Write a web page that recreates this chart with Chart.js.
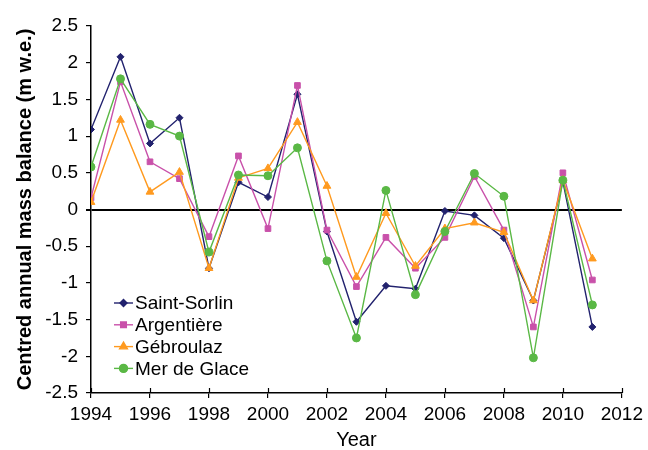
<!DOCTYPE html>
<html>
<head>
<meta charset="utf-8">
<script src="https://cdn.jsdelivr.net/npm/chart.js@4/dist/chart.umd.min.js"></script>
<style>
  html, body { margin: 0; padding: 0; background: #fff; }
  #wrap { width: 648px; height: 450px; position: relative; }
</style>
</head>
<body>
<div id="wrap"><canvas id="massChart" width="648" height="450"></canvas></div>
<script>
const years = [1994, 1995, 1996, 1997, 1998, 1999, 2000, 2001, 2002, 2003, 2004, 2005, 2006, 2007, 2008, 2009, 2010, 2011];
const saintSorlin = [1.09, 2.08, 0.90, 1.25, -0.80, 0.37, 0.17, 1.57, -0.30, -1.53, -1.04, -1.08, -0.02, -0.08, -0.39, -1.24, 0.38, -1.60];
const argentiere = [0.16, 1.74, 0.65, 0.42, -0.37, 0.73, -0.26, 1.69, -0.28, -1.05, -0.38, -0.80, -0.38, 0.45, -0.28, -1.60, 0.50, -0.96];
const gebroulaz = [0.10, 1.22, 0.24, 0.51, -0.80, 0.43, 0.56, 1.19, 0.32, -0.92, -0.05, -0.77, -0.26, -0.18, -0.31, -1.24, 0.40, -0.67];
const merDeGlace = [0.58, 1.78, 1.16, 1.00, -0.58, 0.47, 0.46, 0.84, -0.70, -1.75, 0.26, -1.16, -0.30, 0.49, 0.18, -2.02, 0.40, -1.30];

const seriesNames = ["Saint-Sorlin", "Argentière", "Gébroulaz", "Mer de Glace"];
const xLabel = "Year";
const yLabel = "Centred annual mass balance (m w.e.)";

const FONT = "'Liberation Sans', Arial, sans-serif";

function toPoints(values) {
  return values.map((v, i) => ({ x: years[i], y: v }));
}

function makeDataset(label, values, color, style, radius, order) {
  return {
    label,
    data: toPoints(values),
    borderColor: color,
    backgroundColor: color,
    pointBackgroundColor: color,
    pointBorderColor: color,
    pointStyle: style,
    pointRadius: radius,
    pointBorderWidth: 1,
    borderWidth: 1.4,
    tension: 0,
    order,
  };
}

// legend drawn inside the plot, lower left
const insideLegend = {
  id: "insideLegend",
  afterDraw(chart) {
    const ctx = chart.ctx;
    const x0 = 114;
    const y0 = 303;
    const gap = 21.8;
    ctx.save();
    ctx.font = "19px " + FONT;
    ctx.textBaseline = "middle";
    chart.data.datasets.forEach((ds, i) => {
      const y = y0 + i * gap;
      ctx.strokeStyle = ds.borderColor;
      ctx.lineWidth = 1.4;
      ctx.beginPath();
      ctx.moveTo(x0, y);
      ctx.lineTo(x0 + 19, y);
      ctx.stroke();
      ctx.fillStyle = ds.borderColor;
      Chart.helpers.drawPoint(ctx, { pointStyle: ds.pointStyle, radius: ds.pointRadius, rotation: 0, borderWidth: 1 }, x0 + 9.5, y);
      ctx.fillStyle = "#000";
      ctx.fillText(ds.label, x0 + 21, y + 1);
    });
    ctx.restore();
  },
};

// x-axis ticks cross the axis line, so add the part inside the plot
const innerTicks = {
  id: "innerTicks",
  afterDraw(chart) {
    const ctx = chart.ctx;
    const xs = chart.scales.x;
    const y = chart.chartArea.bottom;
    ctx.save();
    ctx.strokeStyle = "#000";
    ctx.lineWidth = 1.2;
    xs.ticks.forEach((t) => {
      const px = Math.round(xs.getPixelForValue(t.value)) + 0.5;
      ctx.beginPath();
      ctx.moveTo(px, y);
      ctx.lineTo(px, y - 5);
      ctx.stroke();
    });
    ctx.restore();
  },
};

const ctx = document.getElementById("massChart").getContext("2d");
new Chart(ctx, {
  type: "line",
  data: {
    datasets: [
      makeDataset(seriesNames[0], saintSorlin, "#22226e", "rectRot", 3.5, 4),
      makeDataset(seriesNames[1], argentiere, "#c951aa", "rect", 4, 3),
      makeDataset(seriesNames[2], gebroulaz, "#ff9a1f", "triangle", 4.5, 2),
      makeDataset(seriesNames[3], merDeGlace, "#5ab845", "circle", 4, 1),
    ],
  },
  options: {
    responsive: false,
    animation: false,
    layout: { padding: { top: 26, right: 26, left: 0, bottom: 0 } },
    plugins: {
      legend: { display: false },
      tooltip: { enabled: false },
    },
    scales: {
      x: {
        type: "linear",
        min: 1994,
        max: 2012,
        ticks: {
          stepSize: 2,
          color: "#000",
          font: { family: FONT, size: 19 },
          padding: 5,
          maxRotation: 0,
          callback: (v) => String(v),
        },
        grid: { display: true, drawOnChartArea: false, drawTicks: true, tickLength: 5, color: "#000", lineWidth: 1.2 },
        border: { display: true, color: "#000", width: 1.5 },
        title: { display: true, text: xLabel, color: "#000", font: { family: FONT, size: 20, lineHeight: 1 }, padding: { top: 2, bottom: 0 } },
        afterFit(scale) { scale.height = 57; },
      },
      y: {
        min: -2.5,
        max: 2.5,
        ticks: {
          stepSize: 0.5,
          color: "#000",
          font: { family: FONT, size: 19 },
          padding: 8,
          callback: (v) => String(v),
        },
        grid: {
          display: true,
          drawOnChartArea: true,
          drawTicks: true,
          tickLength: 5,
          tickColor: "#000",
          color: (c) => (c.tick && c.tick.value === 0 ? "#000" : "rgba(0,0,0,0)"),
          lineWidth: (c) => (c.tick && c.tick.value === 0 ? 2 : 1.2),
        },
        border: { display: true, color: "#000", width: 1.5 },
        title: { display: true, text: yLabel, color: "#000", font: { family: FONT, size: 20, weight: "bold" }, padding: { top: 13, bottom: 0 } },
        afterFit(scale) { scale.width = 91; },
      },
    },
  },
  plugins: [insideLegend, innerTicks],
});
</script>
</body>
</html>
